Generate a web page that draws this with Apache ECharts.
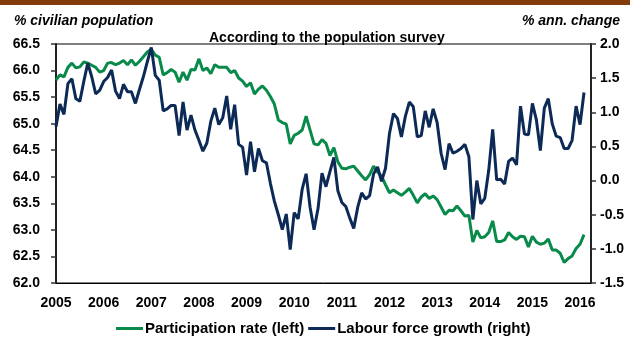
<!DOCTYPE html>
<html>
<head>
<meta charset="utf-8">
<script src="https://cdn.jsdelivr.net/npm/echarts@6/dist/echarts.min.js"></script>
<style>
html,body{margin:0;padding:0;background:#fff;}
#chart{width:630px;height:348px;}
</style>
</head>
<body>
<div id="chart"></div>
<script>
// Monthly data, Jan 2005 .. Feb 2016
var startYear = 2005;
var participationRate = [
  65.82, 65.92, 65.88, 66.06, 66.14, 66.05, 66.07, 66.16, 66.14, 66.10, 66.06, 65.97,
  66.00, 66.14, 66.15, 66.11, 66.14, 66.19, 66.11, 66.20, 66.10, 66.17, 66.26, 66.35,
  66.40, 66.29, 66.25, 65.92, 65.96, 66.02, 65.97, 65.78, 65.97, 65.82, 66.02, 66.01,
  66.22, 66.00, 66.05, 65.94, 66.11, 66.06, 66.06, 66.06, 65.96, 66.00, 65.86, 65.80,
  65.70, 65.77, 65.56, 65.65, 65.71, 65.63, 65.51, 65.37, 65.07, 65.02, 64.99, 64.62,
  64.78, 64.82, 64.88, 65.14, 64.88, 64.62, 64.60, 64.70, 64.63, 64.40, 64.55, 64.28,
  64.16, 64.15, 64.18, 64.20, 64.11, 64.02, 63.94, 64.04, 64.20, 64.09, 64.01, 63.85,
  63.70, 63.75, 63.70, 63.65, 63.71, 63.78, 63.65, 63.51, 63.62, 63.68, 63.59, 63.64,
  63.57, 63.43, 63.29, 63.37, 63.36, 63.45, 63.36, 63.26, 63.27, 62.77, 62.99, 62.85,
  62.87, 62.95, 63.17, 62.78, 62.78, 62.81, 62.95, 62.87, 62.82, 62.88, 62.87, 62.68,
  62.88, 62.77, 62.73, 62.75, 62.83, 62.62, 62.62, 62.56, 62.39, 62.46, 62.51, 62.65,
  62.73, 62.91
];
var labourForceGrowth = [
  0.79, 1.12, 0.97, 1.42, 1.49, 1.20, 1.16, 1.45, 1.72, 1.52, 1.27, 1.32,
  1.45, 1.51, 1.62, 1.31, 1.20, 1.41, 1.30, 1.30, 1.13, 1.33, 1.52, 1.74,
  1.95, 1.54, 1.47, 1.02, 1.05, 1.10, 1.10, 0.66, 1.15, 0.74, 0.96, 0.74,
  0.59, 0.43, 0.55, 0.87, 1.06, 0.82, 0.92, 1.24, 0.75, 1.11, 0.53, 0.49,
  0.08, 0.57, 0.13, 0.47, 0.29, 0.26, -0.04, -0.30, -0.50, -0.72, -0.49, -1.01,
  -0.47, -0.56, -0.13, 0.10, -0.39, -0.72, -0.41, 0.11, -0.09, 0.13, 0.34, -0.15,
  -0.32, -0.38, -0.55, -0.70, -0.39, -0.18, -0.27, -0.22, 0.10, 0.20, -0.01, 0.18,
  0.69, 0.98, 0.91, 0.64, 0.94, 1.15, 1.08, 0.64, 0.66, 1.02, 0.78, 1.05,
  0.85, 0.40, 0.16, 0.54, 0.40, 0.43, 0.47, 0.53, 0.35, -0.57, 0.00, -0.34,
  -0.26, 0.15, 0.75, 0.01, 0.02, -0.05, 0.28, 0.33, 0.23, 1.09, 0.68, 0.67,
  1.13, 0.89, 0.44, 1.06, 1.20, 0.83, 0.65, 0.63, 0.47, 0.47, 0.59, 1.09,
  0.82, 1.29
];
var yearTicks = [2005, 2006, 2007, 2008, 2009, 2010, 2011, 2012, 2013, 2014, 2015, 2016];
var leftTicks = [62.0, 62.5, 63.0, 63.5, 64.0, 64.5, 65.0, 65.5, 66.0, 66.5];
var rightTicks = [-1.5, -1.0, -0.5, 0.0, 0.5, 1.0, 1.5, 2.0];
var seriesNames = ['Participation rate (left)', 'Labour force growth (right)'];
var titleText = 'According to the population survey';
var leftAxisTitle = '% civilian population';
var rightAxisTitle = '% ann. change';

function toPairs(arr) {
  return arr.map(function (v, i) { return [startYear + i / 12, v]; });
}

var FONT = '"Liberation Sans", Arial, sans-serif';
var GREEN = '#088A4B';
var NAVY = '#0C2A55';

var chart = echarts.init(document.getElementById('chart'), null, {renderer: 'canvas'});
chart.setOption({
  animation: false,
  backgroundColor: '#ffffff',
  graphic: [{
    type: 'rect', left: 0, top: 0, shape: {width: 630, height: 5},
    style: {fill: '#843C0C'}, silent: true
  }],
  title: [
    {text: titleText, left: 204, top: 26,
     textStyle: {fontFamily: FONT, fontWeight: 'bold', fontSize: 14, color: '#000'}},
    {text: leftAxisTitle, left: 9, top: 9,
     textStyle: {fontFamily: FONT, fontWeight: 'bold', fontStyle: 'italic', fontSize: 14, color: '#000'}},
    {text: rightAxisTitle, right: 5, top: 9,
     textStyle: {fontFamily: FONT, fontWeight: 'bold', fontStyle: 'italic', fontSize: 14, color: '#000'}}
  ],
  legend: {
    data: seriesNames,
    top: 316,
    left: 111,
    icon: 'rect',
    itemWidth: 27,
    itemHeight: 3,
    itemGap: 4,
    textStyle: {fontFamily: FONT, fontWeight: 'bold', fontSize: 15, color: '#000', padding: [0, 0, 0, -3]}
  },
  grid: {
    left: 56, right: 39, top: 44, bottom: 65,
    show: true, borderColor: '#000', borderWidth: 1, backgroundColor: 'transparent'
  },
  xAxis: {
    type: 'value',
    min: yearTicks[0],
    max: 2016.23,
    interval: 1,
    axisLine: {show: true, onZero: false, lineStyle: {color: '#000', width: 1}},
    axisTick: {show: false},
    splitLine: {show: false},
    axisLabel: {
      margin: 13,
      showMaxLabel: false,
      fontFamily: FONT, fontWeight: 'bold', fontSize: 14, color: '#000',
      formatter: function (v) { return yearTicks.indexOf(v) >= 0 ? String(v) : ''; }
    }
  },
  yAxis: [{
    type: 'value',
    position: 'left',
    min: leftTicks[0],
    max: leftTicks[leftTicks.length - 1],
    interval: 0.5,
    axisLine: {show: true, lineStyle: {color: '#222', width: 2}},
    axisTick: {show: true, inside: false, length: 5, lineStyle: {color: '#333', width: 1.5}},
    splitLine: {show: false},
    axisLabel: {
      margin: 16,
      fontFamily: FONT, fontWeight: 'bold', fontSize: 14, color: '#000',
      formatter: function (v) { return v.toFixed(1); }
    }
  }, {
    type: 'value',
    position: 'right',
    min: rightTicks[0],
    max: rightTicks[rightTicks.length - 1],
    interval: 0.5,
    axisLine: {show: true, lineStyle: {color: '#222', width: 2}},
    axisTick: {show: true, inside: false, length: 5, lineStyle: {color: '#333', width: 1.5}},
    splitLine: {show: false},
    axisLabel: {
      margin: 9,
      fontFamily: FONT, fontWeight: 'bold', fontSize: 14, color: '#000',
      formatter: function (v) { return v.toFixed(1); }
    }
  }],
  series: [{
    name: seriesNames[0],
    type: 'line',
    yAxisIndex: 0,
    data: toPairs(participationRate),
    showSymbol: false,
    symbol: 'none',
    color: GREEN,
    lineStyle: {color: GREEN, width: 3},
    z: 3
  }, {
    name: seriesNames[1],
    type: 'line',
    yAxisIndex: 1,
    data: toPairs(labourForceGrowth),
    showSymbol: false,
    symbol: 'none',
    color: NAVY,
    lineStyle: {color: NAVY, width: 3},
    z: 4
  }]
});
</script>
</body>
</html>
